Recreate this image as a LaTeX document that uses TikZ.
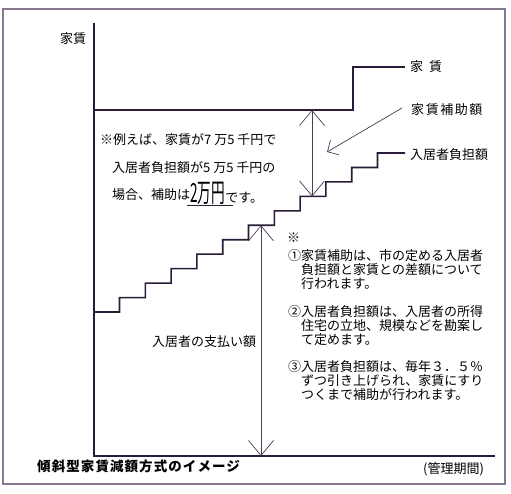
\documentclass[tikz,border=0pt]{standalone}
\usepackage{fontspec}
\setmainfont{Noto Sans CJK JP}
\usetikzlibrary{arrows.meta}
\definecolor{ln}{HTML}{2A1B38}
\definecolor{fr}{HTML}{85788F}
\begin{document}
\begin{tikzpicture}[x=1pt,y=-1pt,
  txt/.style={anchor=west,inner sep=0pt,font=\fontsize{13}{14}\selectfont,text=black},
  mainline/.style={draw=ln,line width=1.6pt,line join=miter},
  bigbarb/.tip={Straight Barb[length=15pt,width=25pt,line cap=butt]},
  smallbarb/.tip={Straight Barb[length=8.5pt,width=17pt,line cap=butt]},
  dimarrow/.style={draw=ln!85,line width=0.7pt,bigbarb-bigbarb},
  leader/.style={draw=ln!85,line width=0.7pt,-smallbarb},
]
\useasboundingbox (0,0) rectangle (511,494);
\fill[white] (0,0) rectangle (511,494);
% outer frame
\draw[fr,line width=2.2pt] (3,9) rectangle (505,484);
% axes
\coordinate (yt) at (94,23);
\coordinate (o) at (94,456);
\coordinate (xr) at (495,456);
\draw[mainline] (yt) -- (o) -- (xr);
% rent line
\coordinate (r0) at (94,110);
\coordinate (r1) at (353,110);
\coordinate (r2) at (353,67);
\coordinate (r3) at (405,67);
\draw[mainline] (r0) -- (r1) -- (r2) -- (r3);
% staircase
\draw[mainline] (94,312)
  \foreach \i in {0,...,10} { -- ({119.5+25.8*\i},{312-14.45*\i}) -- ({119.5+25.8*\i},{312-14.45*(\i+1)}) }
  -- (405,153.05);
% subsidy arrow
\coordinate (sa) at (312,110);
\coordinate (sb) at (312,196.4);
\draw[dimarrow] (sa) -- (sb);
% payment arrow
\coordinate (pa) at (261,225.3);
\coordinate (pb) at (261,456);
\draw[dimarrow] (pa) -- (pb);
% leader
\coordinate (ls) at (402,108);
\coordinate (le) at (327,152);
\draw[leader] (ls) -- (le);
% labels
\node[txt] (ylab) at (60,39) {家賃};
\node[txt] (rent) at (410,67) {家\hspace{6pt}賃};
\node[txt,font=\fontsize{13}{14}\selectfont\addfontfeatures{LetterSpace=12}] (sub) at (411,110) {家賃補助額};
\node[txt] (burden) at (410,155) {入居者負担額};
\node[txt] (ex1) at (100,140) {※例えば、家賃が7 万5 千円で};
\node[txt] (ex2) at (112,168) {入居者負担額が5 万5 千円の};
\node[txt] (ex3) at (112,195) {場合、補助は};
\node[anchor=base west,inner sep=0pt] (big) at (190,202.5)
  {\scalebox{0.62}[1.2]{\fontsize{22}{22}\selectfont 2万円}};
\node[txt,anchor=base west] (ex4) at (big.base east) {です。};
\draw[ln,line width=0.8pt] (187,205) -- (233,205);
\node[txt] (mark) at (287,238) {※};
\node[txt] (n1a) at (288,256) {①家賃補助は、市の定める入居者};
\node[txt] (n1b) at (301,270) {負担額と家賃との差額について};
\node[txt] (n1c) at (301,284) {行われます。};
\node[txt] (n2a) at (288,312) {②入居者負担額は、入居者の所得};
\node[txt] (n2b) at (301,326) {住宅の立地、規模などを勘案し};
\node[txt] (n2c) at (301,340) {て定めます。};
\node[txt] (n3a) at (288,367) {③入居者負担額は、毎年３．５％};
\node[txt] (n3b) at (301,381) {ずつ引き上げられ、家賃にすり};
\node[txt] (n3c) at (301,395) {つくまで補助が行われます。};
\node[txt] (pay) at (152,342) {入居者の支払い額};
\node[txt,font=\fontsize{13.5}{14}\selectfont\bfseries\addfontfeatures{LetterSpace=8}] (cap) at (37,466) {傾斜型家賃減額方式のイメージ};
\node[txt] (per) at (423,469) {(管理期間)};
\end{tikzpicture}
\end{document}
